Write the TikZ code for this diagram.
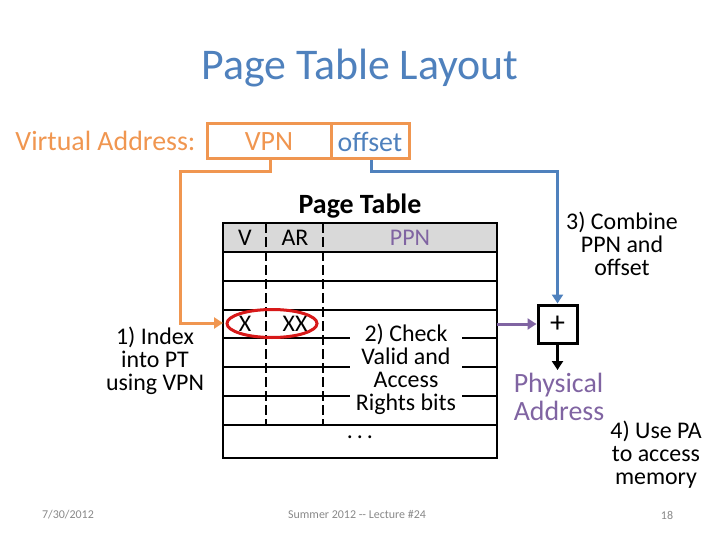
\documentclass[tikz,border=0pt]{standalone}
\usepackage{fontspec}
\setmainfont{Carlito}
\usetikzlibrary{arrows.meta,positioning}
\definecolor{vaorange}{RGB}{240,150,80}
\definecolor{vablue}{RGB}{79,129,189}
\definecolor{vapurple}{RGB}{128,100,162}
\definecolor{vared}{RGB}{215,25,25}
\definecolor{hdrgray}{RGB}{217,217,217}
\definecolor{footgray}{RGB}{137,137,137}
\tikzset{
  fleche/.style={-{Triangle[length=9bp,width=11bp]}},
  petit/.style={font=\fontsize{24}{23}\selectfont, align=center},
  grand/.style={font=\fontsize{28}{28}\selectfont},
  pied/.style={font=\fontsize{12}{14}\selectfont, text=footgray}
}

\begin{document}
\begin{tikzpicture}[x=1bp,y=-1bp]
        \useasboundingbox (0,0) rectangle (720,540);
        % Titre
        \node[text=vablue, font=\fontsize{44}{48}\selectfont] (titre) at (360,68) {Page Table Layout};
        
        % Adresse virtuelle
        \node[text=vaorange, grand, anchor=east] (va) at (199,141) {Virtual Address:};
        \node[draw=vaorange, line width=3bp, minimum width=124bp, minimum height=35bp, text=vaorange,
              grand] (vpn) at (269,141.5) {VPN};
        \node[draw=vaorange, line width=3bp, minimum width=78bp, minimum height=35bp, text=vablue,
              grand] (offset) at (370,141.5) {offset};
        
        % Table des pages
        \node[font=\bfseries\fontsize{28}{28}\selectfont] (pt) at (360,206) {Page Table};
        \fill[hdrgray] (223,223) rectangle (497,252);
        \foreach \y in {252,281,310,338,367,396,425}
            \draw[line width=1.75bp] (223,\y) -- (497,\y);
        \foreach \x in {266,323}
            \draw[line width=2.5bp, dash pattern=on 10bp off 4bp] (\x,223) -- (\x,425);
        \draw[line width=2.5bp] (223,223) rectangle (497,458);
        
        % Textes de la table
        \node[petit] (hv) at (245,238) {V};
        \node[petit] (har) at (295,238) {AR};
        \node[petit, text=vapurple] (hppn) at (410,238) {PPN};
        \node[petit] (bx) at (245,324) {X};
        \node[petit] (bxx) at (295,324) {XX};
        \draw[vared, line width=3bp] (272,323.5) ellipse (45 and 14);
        \node[petit, fill=white, inner xsep=6bp, inner ysep=1bp] (check) at (406,369)
            {2) Check\\Valid and\\Access\\Rights bits};
        \node[petit] (dots) at (360,437) {.\,.\,.};
        
        % Addition
        \node[draw, line width=3bp, minimum width=39bp, minimum height=38bp,
              font=\fontsize{30}{30}\selectfont] (plus) at (557.5,324) {+};
        \node[text=vapurple, grand, align=left] (pa) at (559,397)
            {Physical\\Address};
        
        % Points de passage
        \coordinate (o1) at (270,172);
        \coordinate (o2) at (180,172);
        \coordinate (o3) at (180,323);
        \coordinate (idx) at (223,323);
        \coordinate (b1) at (371,172);
        \coordinate (b2) at (557.5,172);
        \coordinate (ppnout) at (497,324);
        \coordinate (paend) at (557.5,370);
        
        % Connecteurs
        \draw[vaorange, line width=3bp, fleche] (vpn.south -| o1) -- (o1) -- (o2) -- (o3) -- (idx);
        \draw[vablue, line width=3bp, fleche] (offset.south -| b1) -- (b1) -- (b2) -- (plus.north);
        \draw[vapurple, line width=3bp, fleche] (ppnout) -- (plus.west);
        \draw[line width=2.5bp, fleche] (plus.south) -- (paend);
        
        % Etapes
        \node[petit] (step1) at (155,361) {1) Index\\into PT\\using VPN};
        \node[petit] (step3) at (622,244) {3) Combine\\PPN and\\offset};
        \node[petit] (step4) at (656,455) {4) Use PA\\to access\\memory};
        
        % Pied de page
        \node[pied] (date) at (68,515) {7/30/2012};
        \node[pied] (lect) at (357,515) {Summer 2012 -\kern0pt- Lecture \#24};
        \node[pied] (num) at (667,515) {18};
    \end{tikzpicture}
\end{document}
